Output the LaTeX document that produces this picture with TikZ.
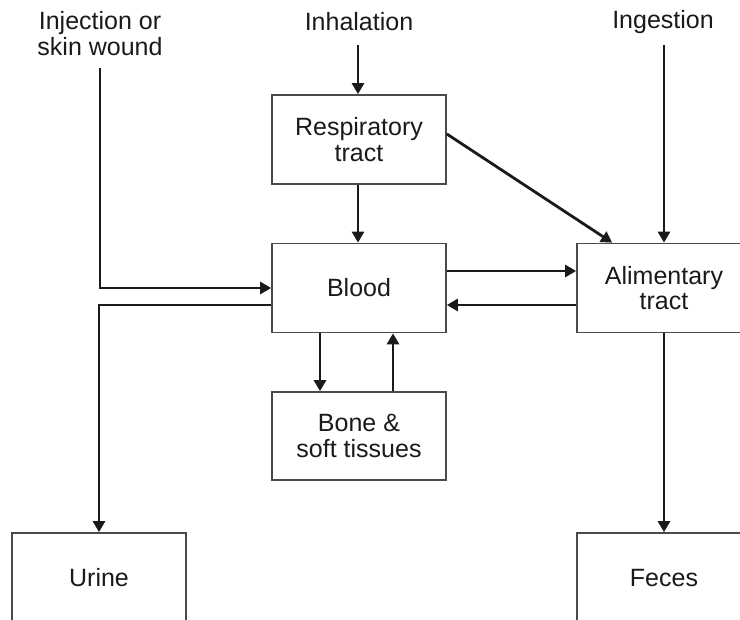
\documentclass[tikz,border=0pt]{standalone}
\usepackage{fontspec}
\setmainfont{Liberation Sans}
\usetikzlibrary{arrows.meta}
\definecolor{ink}{HTML}{1A1A1A}
\definecolor{boxline}{HTML}{4A4A4A}
\begin{document}
\begin{tikzpicture}[x=1pt,y=-1pt,
  every node/.style={font=\fontsize{25}{25.5}\selectfont, text=ink, align=center},
  compartment/.style={draw=boxline, line width=1.7pt, minimum width=174pt,
                      minimum height=89pt, inner sep=0pt},
  route/.style={inner sep=0pt},
  flow/.style={draw=ink, line width=2.8pt,
               -{Triangle[length=11pt,width=12pt]}}]
  \useasboundingbox (0,0) rectangle (740,620);
  \begin{scope}
  \clip (0,0) rectangle (740,620);

  % entry routes
  \node[route] (inj) at (100,33.5) {Injection or\\skin wound};
  \node[route] (inh) at (359,22) {Inhalation};
  \node[route] (ing) at (663,22) {Ingestion};
  \coordinate (injS) at (100,68);
  \coordinate (inhS) at (358,45);
  \coordinate (ingS) at (664,45);

  % compartments
  \node[compartment] (resp)  at (359,139.5) {Respiratory\\tract};
  \node[compartment] (blood) at (359,288)   {Blood};
  \node[compartment, minimum height=88pt] (bone) at (359,436) {Bone \&\\soft tissues};
  \node[compartment] (alim)  at (664,288)   {Alimentary\\tract};
  \node[compartment, minimum height=90pt] (urine) at (99,578)  {Urine};
  \node[compartment, minimum height=90pt] (feces) at (664,578) {Feces};

  % transfers
  \draw[flow] (inhS) -- (resp.north -| inhS);
  \draw[flow] (resp.south -| inhS) -- (blood.north -| inhS);
  \draw[flow] ([yshift=5.5pt]resp.east) -- ([xshift=36pt]alim.north west);
  \draw[flow] (ingS) -- (alim.north -| ingS);
  \draw[flow] (injS) |- (blood.west);
  \draw[flow] ([yshift=17pt]blood.east) -- ([yshift=17pt]alim.west);
  \draw[flow] ([yshift=-17pt]alim.west) -- ([yshift=-17pt]blood.east);
  \draw[flow] ([yshift=-17pt]blood.west) -| (urine.north);
  \draw[flow] ([xshift=-39pt]blood.south) -- ([xshift=-39pt]bone.north);
  \draw[flow] ([xshift=34pt]bone.north) -- ([xshift=34pt]blood.south);
  \draw[flow] (alim.south) -- (feces.north);
  \end{scope}
\end{tikzpicture}
\end{document}
